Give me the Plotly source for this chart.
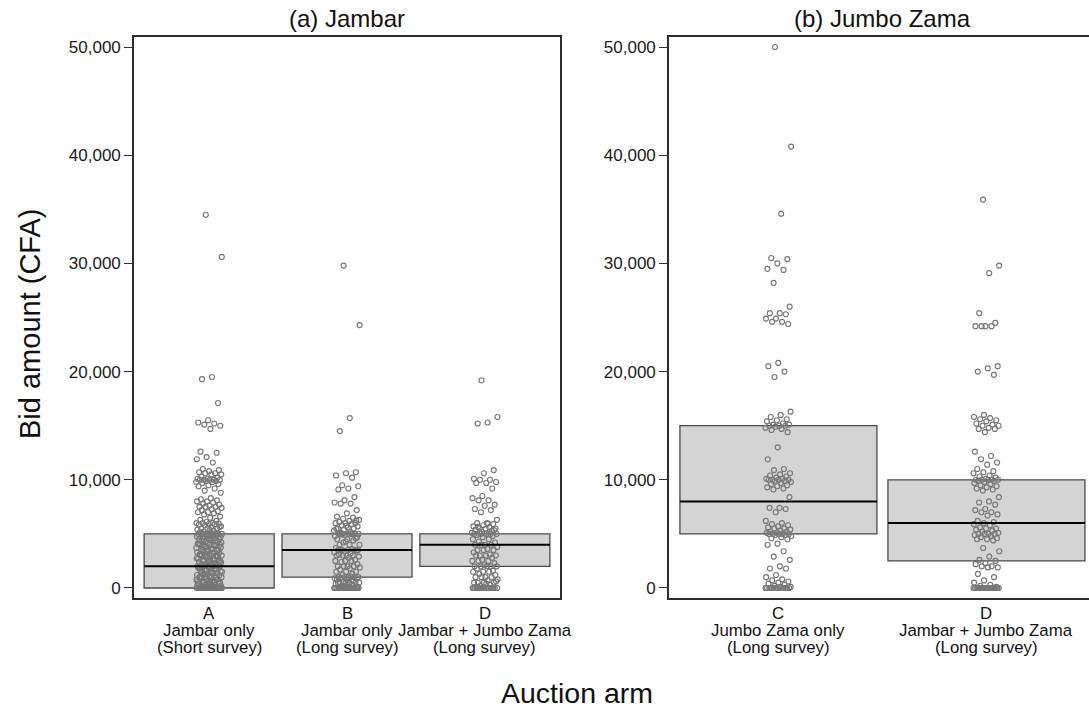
import numpy as np
import plotly.graph_objects as go

W, H = 1089, 709

# ---------------- data ----------------
panel_titles = ["(a) Jambar", "(b) Jumbo Zama"]
a_cats = ["A", "B", "D"]
a_line2 = ["Jambar only", "Jambar only", "Jambar + Jumbo Zama"]
a_line3 = ["(Short survey)", "(Long survey)", "(Long survey)"]
b_cats = ["C", "D"]
b_line2 = ["Jumbo Zama only", "Jambar + Jumbo Zama"]
b_line3 = ["(Long survey)", "(Long survey)"]

# box statistics: q1, median, q3
a_q1 = [0, 1000, 2000]
a_med = [2000, 3500, 4000]
a_q3 = [5000, 5000, 5000]
b_q1 = [5000, 2500]
b_med = [8000, 6000]
b_q3 = [15000, 10000]

y_ticks = [0, 10000, 20000, 30000, 40000, 50000]

bids_A = [34500, 30600, 19500, 19300, 17100, 15500, 15300, 15200, 15100, 15000, 14700,
          12600, 12500, 12100, 11900, 11600,
          11000, 10900, 10800, 10700, 10600, 10600, 10500, 10500,
          10300, 10200, 10100, 10100, 10000, 10000, 10000, 10000, 10000, 9900, 9900, 9800,
          9800, 9700, 9600, 9500, 9400, 9200, 9000, 8800,
          8300, 8200, 8100, 8000, 8000, 7900, 7800, 7700, 7600, 7500, 7500, 7500, 7400,
          7300, 7200, 7100, 7000, 7000, 6900, 6800,
          6600, 6500, 6300, 6200, 6100, 6000, 6000, 6000, 5950, 5900, 5850,
          5900, 5800, 5700, 5600, 5500, 5500, 5500, 5400, 5300, 5200, 5650, 5350, 5150,
          5100, 5000, 5000, 5000, 5000, 5000, 5000, 5000, 4900, 4800, 4700, 4600,
          5050, 4950, 4850, 4750, 4650, 4550,
          4500, 4500, 4500, 4400, 4300, 4200, 4450, 4350, 4250, 4150,
          4100, 4000, 4000, 4000, 4000, 4000, 3900, 3800, 3700, 3600, 3500, 3500, 3500,
          4050, 3950, 3850, 3750, 3650, 3550, 3450,
          3400, 3300, 3200, 3350, 3250, 3150,
          3100, 3000, 3000, 3000, 3000, 3000, 2900, 2800, 2700, 2600, 2500, 2500, 2500,
          3050, 2950, 2850, 2750, 2650, 2550, 2450,
          2500, 2400, 2300, 2200, 2350, 2250, 2150,
          2100, 2000, 2000, 2000, 2000, 2000, 1900, 1800, 1700, 1600, 1500, 1500, 1500,
          2050, 1950, 1850, 1750, 1650, 1550, 1450,
          1500, 1400, 1300, 1200, 1350, 1250, 1150,
          1100, 1000, 1000, 1000, 1000, 1000, 900, 800, 700, 600, 500, 500, 500, 500,
          1050, 950, 850, 750, 650, 550, 450,
          400, 400, 300, 300, 200, 200, 100, 100, 350, 250, 150, 50,
          0, 0, 0, 0, 0, 0, 0, 0, 0, 0, 0, 0, 0, 0, 0, 0, 0, 0, 0, 0,
          0, 0, 0, 0, 0, 0, 0, 0]

bids_B = [29800, 24300, 15700, 14500,
          10700, 10600, 10400, 10200, 9500, 9400, 9200, 9100, 8400, 8100, 7900, 7800,
          7800, 7200, 6900, 6600,
          6500, 6400, 6300, 6200, 6100, 6000, 6000, 6000, 5900, 5800, 5700, 5600, 5500,
          5500, 5400, 5300, 5200, 5100, 6250, 5750, 5450,
          5000, 5000, 5000, 5000, 5000, 5000, 4900, 4800, 5050, 4950,
          4700, 4500, 4500, 4400, 4200, 4000, 4000, 4000, 4600, 4300,
          3700, 3600, 3500, 3500, 3500, 3500, 3500, 3400, 3300, 3200, 3550, 3450,
          3000, 3000, 3000, 3000, 2900, 2800, 3100,
          2600, 2500, 2500, 2500, 2400, 2200, 2000, 2000, 2000, 2000, 1900, 1800,
          1700, 1500, 1500, 1500, 1300, 1200, 1000, 1000, 1000, 1000, 1000, 900,
          1050, 950, 850, 750,
          800, 700, 600, 500, 500, 500, 500, 500, 400, 300, 200, 100, 550, 450, 250, 150,
          0, 0, 0, 0, 0, 0, 0, 0, 0, 0, 0, 0, 0, 0, 0, 0, 0, 0, 0, 0]

bids_Da = [19200, 15800, 15300, 15200, 10900, 10600, 10100, 10000, 10000, 9800, 9700,
           9700, 9200, 8500, 8300, 8100, 8100, 7700, 7600, 7300, 7200, 7000, 6300,
           6000, 6000, 5900, 5800, 5700, 5600, 5500, 5500, 5500, 5400, 5300, 5200, 5100,
           5950, 5650, 5350, 5050,
           5000, 5000, 5000, 5000, 5000, 4900, 4800, 4700, 4500, 4500, 4300, 4200,
           4000, 4000, 4000, 4000, 3800, 3600, 3500, 3500, 3500, 3300, 3100,
           3000, 3000, 3000, 3000, 2800, 2600, 2500, 2500, 2500, 2300, 2100,
           2000, 2000, 2000, 2000, 2000, 1800, 1600, 1500, 1500, 1500, 1300, 1200,
           1000, 1000, 1000, 1000, 800, 700, 500, 500, 500, 500, 300, 200, 600, 400, 100,
           0, 0, 0, 0, 0, 0, 0, 0, 0, 0, 0, 0, 0, 0, 0, 0]

bids_C = [50000, 40800, 34600, 30500, 30400, 30000, 29500, 29400, 28200, 26000,
          25400, 25400, 25300, 24900, 24900, 24600, 24600, 24400,
          20800, 20500, 20000, 19500,
          16300, 16000, 15800, 15600, 15500, 15400, 15200, 15100, 15100, 15000, 15000,
          15000, 14900, 14800, 14700, 14600, 14400,
          13000, 11900, 11000, 10900,
          10600, 10500, 10400, 10300, 10200, 10100, 10100, 10000, 10000, 10000, 10000,
          9900, 9900, 9800, 9700, 9600, 9500, 9400, 9300, 9200, 9100,
          8400, 7400, 7400, 7300, 7000, 6200,
          6000, 5900, 5800, 5700, 5600, 5500, 5500, 5400, 5300, 5200, 5200, 5100, 5100,
          5000, 5000, 5000, 5000, 5000, 4900, 4900, 4800, 4700, 4600, 4500,
          4100, 4000, 3400, 2900, 2600, 2000, 1800, 1800, 1200, 1000,
          800, 700, 600, 500, 400, 300, 200, 100, 100,
          0, 0, 0, 0, 0, 0, 0, 0, 0, 0, 0, 0]

bids_Db = [35900, 29800, 29100, 25400, 24500, 24200, 24200, 24200, 24200,
           20500, 20300, 20000, 19700,
           16000, 15800, 15700, 15600, 15500, 15400, 15200, 15100, 15000, 15000, 14800,
           14700, 14700, 14400,
           12600, 12200, 11900, 11600, 11400,
           11000, 10800, 10700, 10600, 10400, 10300, 10200, 10100, 10000, 10000, 10000,
           10000, 10000, 9900, 9900, 9800, 9700, 9600, 9500, 9400, 9300, 9200, 9100, 9000,
           8400, 8000, 7900, 7700, 7300, 7200, 7000, 7000, 6800, 6700,
           6200, 6100, 6000, 5900, 5800, 5600, 5500, 5500, 5400, 5300, 5200, 5100,
           5000, 5000, 5000, 5000, 4900, 4800, 4700, 4600, 4500, 4500, 4400,
           3700, 3400, 2900, 2600, 2500, 2300, 2200, 2000, 2000, 1900, 1900, 1300, 1000,
           700, 500, 300, 200, 100,
           0, 0, 0, 0, 0, 0, 0, 0, 0, 0, 0, 0, 0, 0, 0, 0, 0, 0]

a_groups = [bids_A, bids_B, bids_Da]
b_groups = [bids_C, bids_Db]

# ---------------- style ----------------
FONT = "Liberation Sans, Arial, Helvetica, sans-serif"
BOX_FILL = "#d4d4d4"
BOX_EDGE = "#4a4a4a"
PT_COLOR = "#777777"
FRAME = "#2e2e2e"

a_box_w = 0.943
b_box_w = 0.947
a_jit = 0.094
b_jit = 0.0625


def jitter(n, half):
    k = np.arange(n)
    return ((k * 0.6180339887 + 0.37) % 1.0 - 0.5) * 2 * half


fig = go.Figure()


def add_panel(groups, q1, med, q3, box_w, jit, xa, ya):
    pos = list(range(len(groups)))
    fig.add_trace(go.Bar(
        x=pos, y=[h - l for h, l in zip(q3, q1)], base=q1, width=box_w,
        marker=dict(color=BOX_FILL, line=dict(color=BOX_EDGE, width=1.3)),
        xaxis=xa, yaxis=ya, showlegend=False, hoverinfo="skip"))
    for i, vals in enumerate(groups):
        xs = i + jitter(len(vals), jit)
        fig.add_trace(go.Scatter(
            x=xs, y=vals, mode="markers",
            marker=dict(symbol="circle-open", size=5, color=PT_COLOR,
                        line=dict(width=1.15, color=PT_COLOR)),
            xaxis=xa, yaxis=ya, showlegend=False))
    mx, my = [], []
    for i, m in enumerate(med):
        mx += [i - box_w / 2, i + box_w / 2, None]
        my += [m, m, None]
    fig.add_trace(go.Scatter(x=mx, y=my, mode="lines",
                             line=dict(color="black", width=2),
                             xaxis=xa, yaxis=ya, showlegend=False,
                             hoverinfo="skip"))


add_panel(a_groups, a_q1, a_med, a_q3, a_box_w, a_jit, "x", "y")
add_panel(b_groups, b_q1, b_med, b_q3, b_box_w, b_jit, "x2", "y2")

yr = [-925, 50925]
ytext = [f"{v:,}" for v in y_ticks]

x1d = [134 / W, 560 / W]
x2d = [669 / W, 1.0]
yd = [(H - 598) / H, (H - 37) / H]

axis_common = dict(showgrid=False, zeroline=False, linecolor=FRAME, linewidth=1.6)

fig.update_layout(
    width=W, height=H,
    margin=dict(l=0, r=0, t=0, b=0),
    paper_bgcolor="white", plot_bgcolor="white",
    font=dict(family=FONT, color="#222"),
    barmode="overlay",
    xaxis=dict(domain=x1d, range=[-0.545, 2.545], showticklabels=False, ticks="",
               showline=True, mirror=True, anchor="y", **axis_common),
    yaxis=dict(domain=yd, range=yr, tickvals=y_ticks, ticktext=ytext, ticks="outside",
               ticklen=8, tickwidth=1.2, tickcolor=FRAME, showline=True, mirror=True,
               tickfont=dict(size=17, family=FONT, color="#1a1a1a"), anchor="x",
               **axis_common),
    xaxis2=dict(domain=x2d, range=[-0.526, 1.493], showticklabels=False, ticks="",
                showline=True, mirror=True, anchor="y2", **axis_common),
    yaxis2=dict(domain=yd, range=yr, tickvals=y_ticks, ticktext=ytext, ticks="outside",
                ticklen=8, tickwidth=1.2, tickcolor=FRAME, showline=True, mirror=False,
                tickfont=dict(size=17, family=FONT, color="#1a1a1a"), anchor="x2",
                **axis_common),
)

ann = []


def pyp(p):
    return 1 - p / H


def A(text, x, y, xref="paper", size=17, angle=0):
    return dict(text=text, x=x, y=pyp(y), xref=xref, yref="paper", showarrow=False,
                xanchor="center", yanchor="middle", textangle=angle,
                font=dict(size=size, family=FONT, color="#111"))


# panel titles
ann.append(A(panel_titles[0], sum(x1d) / 2, 19, size=24))
ann.append(A(panel_titles[1], (669 + 1096) / 2 / W, 19, size=24))

# category labels
for xref, cats, l2, l3 in [("x", a_cats, a_line2, a_line3), ("x2", b_cats, b_line2, b_line3)]:
    for i, (c, s2, s3) in enumerate(zip(cats, l2, l3)):
        for txt, p in [(c, 613), (s2, 630), (s3, 647)]:
            ann.append(A(txt, i, p, xref=xref, size=16.8))

# axis titles
ann.append(A("Auction arm", 577 / W, 693, size=28.5))
ann.append(A("Bid amount (CFA)", 30 / W, 324, size=29, angle=-90))

fig.update_layout(annotations=ann)

fig.write_html("out.html")
